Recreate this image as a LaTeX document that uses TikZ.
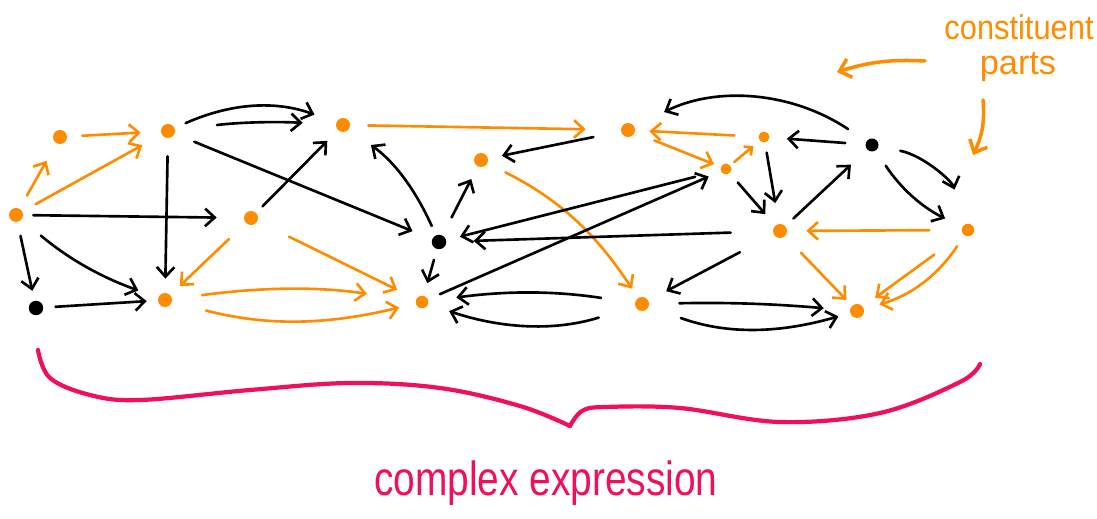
\documentclass[tikz,border=0pt]{standalone}
\usepackage{fontspec}
\usepackage{graphicx}
\setmainfont{Liberation Sans}
\usetikzlibrary{arrows.meta}
\definecolor{org}{RGB}{255,140,0}
\definecolor{pnk}{RGB}{240,16,90}
\begin{document}
\begin{tikzpicture}[x=0.02cm,y=0.02cm,
  odot/.style={circle,fill=org,inner sep=0pt,minimum size=0.28cm},
  sdot/.style={circle,fill=org,inner sep=0pt,minimum size=0.22cm},
  bdot/.style={circle,fill=black,inner sep=0pt,minimum size=0.29cm},
  blk/.style={draw=black,line width=1.5pt,line cap=round,-{Straight Barb[length=5.5pt,width=10pt]}},
  ora/.style={draw=org,line width=1.5pt,line cap=round,-{Straight Barb[length=5.5pt,width=10pt]}},
  sh/.style 2 args={shorten <=#1cm,shorten >=#2cm},
  lab/.style={text=org,font=\fontsize{19.5}{22}\selectfont,inner sep=0pt,anchor=base},
  brace/.style={draw=pnk,line width=2.4pt,line cap=round,line join=round}]
\useasboundingbox (0,0) rectangle (1097,-519);
% nodes
\node[odot] (A) at (16,-215) {};
\node[odot] (B) at (60,-137) {};
\node[odot] (C) at (168,-131) {};
\node[bdot] (D) at (36,-308) {};
\node[odot] (E) at (165,-300) {};
\node[odot] (F) at (251,-218) {};
\node[odot] (G) at (343,-125) {};
\node[bdot] (H) at (439,-242) {};
\node[odot,minimum size=0.25cm] (I) at (422,-302) {};
\node[odot] (J) at (481,-160) {};
\node[odot] (K) at (628,-130) {};
\node[odot] (L) at (642,-304) {};
\node[sdot] (M) at (726,-169) {};
\node[sdot] (N) at (764,-137) {};
\node[bdot,minimum size=0.26cm] (O) at (872,-145) {};
\node[odot] (P) at (780,-231) {};
\node[odot,minimum size=0.25cm] (Q) at (968,-230) {};
\node[odot] (R) at (857,-311) {};
% edges
\draw[ora,sh={0.3}{0.4}] (A) -- (B);
\draw[ora,sh={0.3}{0.4}] (B) -- (C);
\draw[ora,sh={0.3}{0.44}] (A) -- (C);
\draw[blk,sh={0.24}{0.46}] (C) to[bend left=22] (G);
\draw[blk,sh={0.84}{0.66}] (C) to[bend left=5] (G);
\draw[blk,sh={0.42}{0.42}] (C) -- (H);
\draw[blk,sh={0.36}{0.28}] (C) -- (E);
\draw[blk,sh={0.2}{0.54}] (A) -- (F);
\draw[blk,sh={0.18}{0.3}] (F) -- (G);
\draw[blk,sh={0.28}{0.2}] (A) -- (D);
\draw[blk,sh={0.5}{0.42}] (A) to[bend right=10] (E);
\draw[blk,sh={0.24}{0.22}] (D) -- (E);
\draw[ora,sh={0.46}{0.26}] (F) -- (E);
\draw[ora,sh={0.6}{0.98}] (E) to[bend left=8] (I);
\draw[ora,sh={0.7}{0.34}] (E) to[bend right=14] (I);
\draw[ora,sh={0.7}{0.42}] (F) -- (I);
\draw[ora,sh={0.36}{0.7}] (G) -- (K);
\draw[blk,sh={0.2}{0.54}] (H) to[bend right=15] (G);
\draw[blk,sh={0.4}{0.28}] (H) -- (J);
\draw[blk,sh={0.56}{0.28}] (K) -- (J);
\draw[ora,sh={0.4}{0.22}] (J) to[bend left=15] (L);
\draw[blk,sh={0.52}{0.28}] (M) -- (H);
\draw[blk,sh={0.84}{0.54}] (P) -- (H);
\draw[blk,sh={0.26}{0.26}] (I) -- (M);
\draw[blk,sh={0.22}{0.26}] (H) -- (I);
\draw[blk,sh={0.68}{0.56}] (L) to[bend right=8] (I);
\draw[blk,sh={0.76}{0.44}] (L) to[bend left=18] (I);
\draw[ora,sh={0.48}{0.28}] (N) -- (K);
\draw[ora,sh={0.42}{0.14}] (K) -- (M);
\draw[ora,sh={0.1}{0.16},-{Straight Barb[length=3.5pt,width=6.5pt]}] (M) -- (N);
\draw[blk,sh={0.44}{0.66}] (O) to[bend right=30] (K);
\draw[blk,sh={0.4}{0.34}] (O) -- (N);
\draw[blk,sh={0.2}{0.42}] (N) -- (P);
\draw[blk,sh={0.24}{0.3}] (M) -- (P);
\draw[blk,sh={0.22}{0.44}] (P) -- (O);
\draw[blk,sh={0.44}{0.72}] (O) to[bend left=30] (Q);
\draw[blk,sh={0.36}{0.38}] (O) to[bend right=15] (Q);
\draw[ora,sh={0.64}{0.38}] (Q) -- (P);
\draw[blk,sh={0.76}{0.4}] (P) -- (L);
\draw[ora,sh={0.46}{0.16}] (P) -- (R);
\draw[ora,sh={0.7}{0.3}] (Q) -- (R);
\draw[ora,sh={0.26}{0.32}] (Q) to[bend left=20] (R);
\draw[blk,sh={0.6}{0.52}] (L) to[bend left=3] (R);
\draw[blk,sh={0.68}{0.24}] (L) to[bend right=18] (R);
% label
\node[lab] (t1) at (1019,-40) {\scalebox{0.9}[1]{constituent}};
\node[lab] (t2) at (1018,-75) {parts};
\coordinate (a1s) at (925,-61);
\coordinate (a1e) at (837,-72);
\coordinate (a2s) at (983,-100);
\coordinate (a2e) at (973,-155);
\draw[ora,line width=2pt,-{Straight Barb[length=6pt,width=11pt]}] (a1s) to[bend right=10] (a1e);
\draw[ora,line width=2pt,-{Straight Barb[length=6pt,width=11pt]}] (a2s) to[bend left=15] (a2e);
% brace
\draw[brace] plot[smooth,tension=0.6] coordinates {(38,-350) (50,-378) (90,-395) (140,-400) (250,-390) (350,-383) (440,-388) (520,-406) (570,-426)};
\draw[brace] plot[smooth,tension=0.6] coordinates {(570,-426) (582,-411) (605,-407) (680,-408) (780,-422) (880,-413) (960,-382) (980,-364)};
\node[text=pnk,font=\fontsize{27.3}{30}\selectfont,inner sep=0pt,anchor=base] (ce) at (546,-495) {\scalebox{0.81}[1]{complex expression}};
\end{tikzpicture}
\end{document}
